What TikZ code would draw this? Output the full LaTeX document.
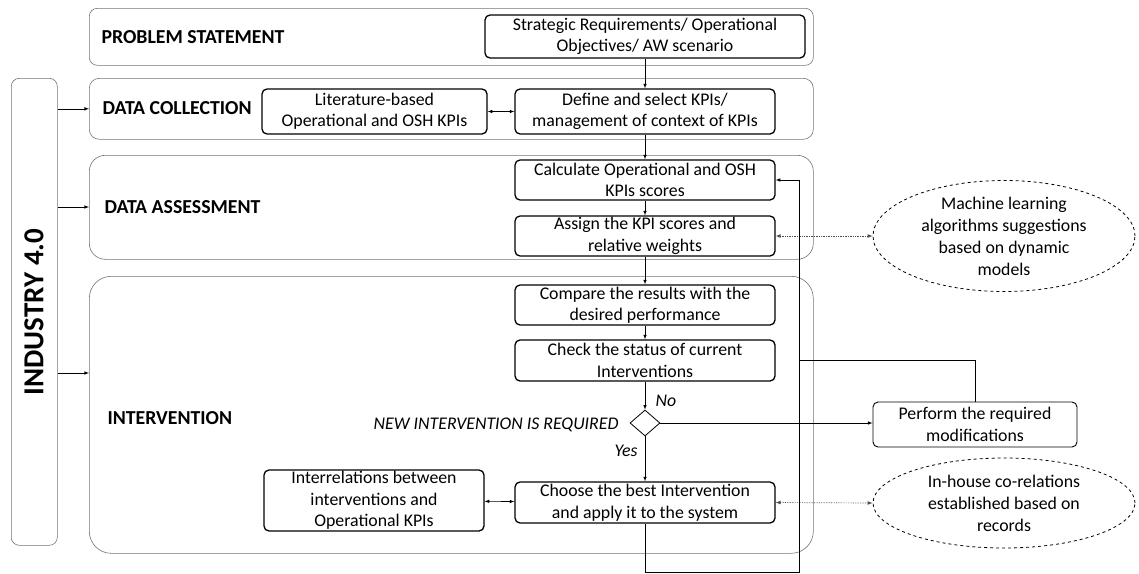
\documentclass[tikz,border=0pt]{standalone}
\usepackage{fontspec}
\setmainfont{Carlito}
\usetikzlibrary{arrows,shapes.geometric}

\begin{document}
\begin{tikzpicture}[
    x=1pt, y=-1pt,
    panel/.style={rectangle, draw=black!55, line width=0.6pt, rounded corners=12pt, anchor=north west, inner sep=0pt},
    box/.style={rectangle, draw, line width=1.3pt, rounded corners=5pt, text centered, align=center, inner sep=0pt, font=\fontsize{17.8}{21.5}\selectfont},
    bubble/.style={ellipse, draw, dashed, line width=0.8pt, align=center, inner sep=0pt, font=\fontsize{17.8}{22}\selectfont},
    title/.style={anchor=west, font=\fontsize{19.8}{22}\selectfont\bfseries},
    tag/.style={font=\fontsize{17.8}{20}\selectfont\itshape},
    arrow/.style={->, >=latex, line width=0.6pt},
    both/.style={<->, >=latex, line width=0.6pt},
    link/.style={<->, >=latex, densely dotted, line width=0.7pt, draw=black!70}
]
    \useasboundingbox (0,0) rectangle (1139,573);

    \node[panel, minimum width=46pt, minimum height=467pt, rounded corners=8pt] (ind) at (11,78) {};
    \node[rotate=90, font=\fontsize{29}{30}\selectfont\bfseries] (indtext) at (34,312) {INDUSTRY 4.0};

    \node[panel, minimum width=724pt, minimum height=57pt, rounded corners=8pt] (ps) at (89,8) {};
    \node[panel, minimum width=724pt, minimum height=61pt, rounded corners=10pt] (dc) at (89,78) {};
    \node[panel, minimum width=724pt, minimum height=104pt, rounded corners=16pt] (da) at (89,155) {};
    \node[panel, minimum width=724pt, minimum height=277pt, rounded corners=22pt] (intv) at (89,276) {};

    \node[title] (pslabel) at (98,37) {PROBLEM STATEMENT};
    \node[title] (dclabel) at (99,108) {DATA COLLECTION};
    \node[title] (dalabel) at (101,207) {DATA ASSESSMENT};
    \node[title] (intlabel) at (104,418) {INTERVENTION};

    \node[box, minimum width=320pt, minimum height=43pt] (strat) at (645,36.5) {Strategic Requirements/ Operational\\Objectives/ AW scenario};
    \node[box, minimum width=225pt, minimum height=45pt] (lit) at (374.5,111.5) {Literature-based\\Operational and OSH KPIs};
    \node[box, minimum width=260pt, minimum height=45pt] (define) at (645,111.5) {Define and select KPIs/\\management of context of KPIs};
    \node[box, minimum width=260pt, minimum height=40pt] (calc) at (645,180) {Calculate Operational and OSH\\KPIs scores};
    \node[box, minimum width=260pt, minimum height=40pt] (assign) at (645,236) {Assign the KPI scores and\\relative weights};
    \node[box, minimum width=260pt, minimum height=40pt] (compare) at (645,305) {Compare the results with the\\desired performance};
    \node[box, minimum width=260pt, minimum height=41pt] (check) at (645,360.5) {Check the status of current\\Interventions};
    \node[diamond, draw, line width=0.8pt, minimum width=30pt, minimum height=26pt, aspect=1.15, inner sep=0pt] (dec) at (645,423) {};
    \node[box, minimum width=260pt, minimum height=41pt] (choose) at (645,502.5) {Choose the best Intervention\\and apply it to the system};
    \node[box, minimum width=220pt, minimum height=61pt] (inter) at (374,500.5) {Interrelations between\\interventions and\\Operational KPIs};
    \node[box, line width=0.9pt, minimum width=204pt, minimum height=45pt] (perf) at (975,424.5) {Perform the required\\modifications};

    \node[bubble, minimum width=262pt, minimum height=94pt] (ml) at (1004,236) {Machine learning\\algorithms suggestions\\based on dynamic\\models};
    \node[bubble, minimum width=262pt, minimum height=90pt] (house) at (1004,503) {In-house co-relations\\established based on\\records};

    \node[tag, anchor=west] (no) at (652,401) {No};
    \node[tag, anchor=east] (yes) at (641,451) {Yes};
    \node[tag, anchor=east] (newint) at (622,425) {NEW INTERVENTION IS REQUIRED};

    \coordinate (intin) at (89,373);
    \coordinate (loop) at (799,572);

    \draw[arrow] (ind.east |- dc.west) -- (dc.west);
    \draw[arrow] (ind.east |- dalabel.west) -- (da.west |- dalabel.west);
    \draw[arrow] (ind.east |- intin) -- (intin);

    \draw[arrow] (strat) -- (define);
    \draw[both] (lit) -- (define);
    \draw[arrow] (define) -- (calc);
    \draw[arrow] (calc) -- (assign);
    \draw[arrow] (assign) -- (compare);
    \draw[arrow] (compare) -- (check);
    \draw[arrow] (check) -- (dec);
    \draw[arrow] (dec) -- (choose);
    \draw[arrow] (dec.east) -- (dec.east -| perf.west);
    \draw[both] (inter) -- (choose);
    \draw[link] (assign.east) -- (ml.west);
    \draw[link] (choose.east) -- (house.west);

    \draw[arrow] (choose.south) -- (choose.south |- loop) -- (loop) -- (loop |- calc.east) -- (calc.east);
    \draw[line width=0.6pt] (perf.north) -- (perf.north |- check.east) -- (loop |- check.east);
\end{tikzpicture}
\end{document}
